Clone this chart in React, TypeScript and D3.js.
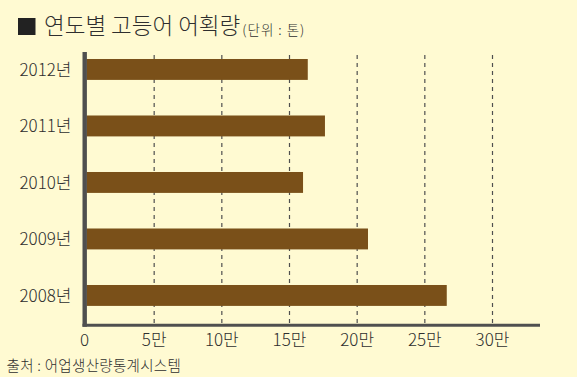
import React from "react";
import * as d3 from "d3";

const years = ["2012년", "2011년", "2010년", "2009년", "2008년"];
const catchValues = [16.35, 17.62, 16.0, 20.8, 26.62]; // 단위: 만 톤
const xTicks = [0, 5, 10, 15, 20, 25, 30];
const xTickLabels = ["0", "5만", "10만", "15만", "20만", "25만", "30만"];

const W = 577;
const H = 377;
const FONT = "'Noto Sans CJK KR', 'Noto Sans', sans-serif";
const BG = "#FFFAD2";
const BAR = "#7A5019";
const AXIS = "#4F4F4F";
const TEXT = "#2E2E2E";

export default function App() {
  const x = d3.scaleLinear().domain([0, 30]).range([86.5, 492.5]);
  const y = d3
    .scaleBand<string>()
    .domain(years)
    .range([41.2, 323.7])
    .paddingInner(0.63)
    .paddingOuter(0.315);

  return (
    <svg
      width={W}
      height={H}
      style={{ position: "fixed", left: 0, top: 0, display: "block" }}
      fontFamily={FONT}
      fontWeight={300}
    >
      <rect x={0} y={0} width={W} height={H} fill={BG} />

      {/* title */}
      <rect x={18} y={18} width={17.5} height={17} fill="#222" />
      <text x={44} y={33.5} fontSize={22.5} fill={TEXT}>
        연도별 고등어 어획량
        <tspan fontSize={13.5} dx={2} dy={1} letterSpacing={1}>(단위 : 톤)</tspan>
      </text>

      {/* gridlines */}
      {xTicks.slice(1).map((t) => (
        <line
          key={"g" + t}
          x1={x(t)}
          x2={x(t)}
          y1={55}
          y2={323}
          stroke={AXIS}
          strokeWidth={1.2}
          strokeDasharray="4,4"
        />
      ))}

      {/* bars */}
      {years.map((yr, i) => (
        <rect
          key={yr}
          x={x(0)}
          y={y(yr)}
          width={x(catchValues[i]) - x(0)}
          height={y.bandwidth()}
          fill={BAR}
        />
      ))}

      {/* axes */}
      <line x1={84.7} x2={84.7} y1={52} y2={326.8} stroke={AXIS} strokeWidth={4.4} />
      <line x1={82.5} x2={540} y1={325.3} y2={325.3} stroke={AXIS} strokeWidth={3} />

      {/* y labels */}
      {years.map((yr) => (
        <text
          key={"l" + yr}
          x={71.5}
          y={(y(yr) as number) + y.bandwidth() / 2}
          dy="0.36em"
          textAnchor="end"
          fontSize={17}
          fill={TEXT}
        >
          {yr}
        </text>
      ))}

      {/* x labels */}
      {xTicks.map((t, i) => (
        <text
          key={"x" + t}
          x={t === 0 ? 84.5 : x(t)}
          y={345.5}
          textAnchor="middle"
          fontSize={17}
          fill={TEXT}
        >
          {xTickLabels[i]}
        </text>
      ))}

      {/* source */}
      <text x={6.5} y={370.5} fontSize={14.5} letterSpacing={0.3} fill={TEXT}>
        출처 : 어업생산량통계시스템
      </text>
    </svg>
  );
}
